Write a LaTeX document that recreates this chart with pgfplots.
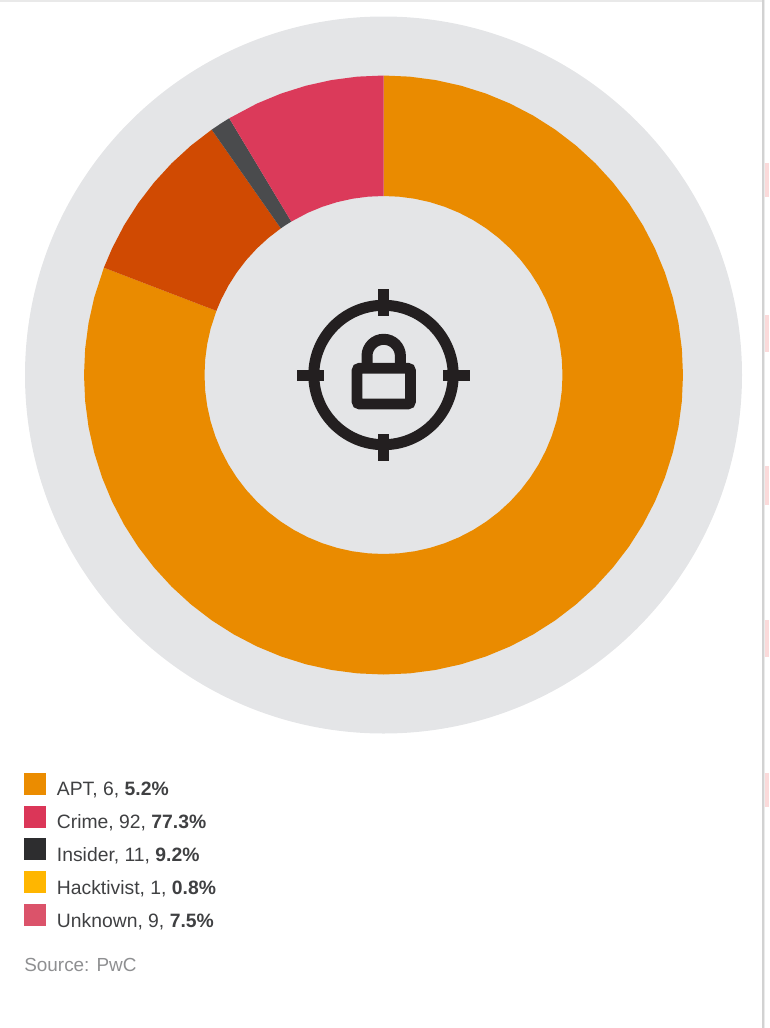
\documentclass[border=0pt]{standalone}
\usepackage{pgfplots}
\pgfplotsset{compat=1.18}
\usepackage{fontspec}
\setmainfont{Liberation Sans}
\definecolor{track}{HTML}{E4E5E7}
\definecolor{sliceA}{HTML}{EA8B00}
\definecolor{sliceB}{HTML}{D04A02}
\definecolor{sliceC}{HTML}{4A4B4D}
\definecolor{sliceD}{HTML}{DB3A5A}
\definecolor{lgA}{HTML}{EB8C00}
\definecolor{lgB}{HTML}{DB3658}
\definecolor{lgC}{HTML}{2D2D2F}
\definecolor{lgD}{HTML}{FFB600}
\definecolor{lgE}{HTML}{DB536A}
\definecolor{ink}{HTML}{231F20}
\definecolor{txt}{HTML}{3F4042}
\definecolor{src}{HTML}{8E8F91}
\definecolor{pink}{HTML}{FBDADA}
\definecolor{edge}{HTML}{D2D2D2}
\pgfplotsset{slice/.style={forget plot,draw=none,fill=#1}}
\pgfkeys{/pgfplots/table/polar table/.style={/pgfplots/table/row sep=\\,/pgfplots/table/x expr={383.5+\thisrow{r}*cos(\thisrow{a})},/pgfplots/table/y expr={375-\thisrow{r}*sin(\thisrow{a})}}}
\begin{document}
\begin{tikzpicture}
\path[use as bounding box] (0,0) rectangle (576.75pt,771pt);
\begin{axis}[at={(0,0)},anchor=south west,scale only axis,width=576.75pt,height=771pt,
 xmin=0,xmax=769,ymin=0,ymax=1028,y dir=reverse,hide axis,clip=true,
 legend image code/.code={\path[#1,draw=none] (0pt,-3.75pt) rectangle (16.5pt,12.75pt);\path (22.5pt,0pt);},
 legend style={at={(axis cs:24,773)},anchor=north west,draw=none,fill=none,inner sep=0pt,outer sep=0pt,
  row sep=3.9pt,cells={anchor=west},font=\fontsize{14.5pt}{16pt}\selectfont,text=txt,
  /tikz/every even column/.append style={column sep=0pt}},
 legend cell align=left]
% page edges
\fill[edge!50] (axis cs:0,0) rectangle (axis cs:763,2);
\fill[edge] (axis cs:762,0) rectangle (axis cs:763.5,1028);
\fill[edge!45] (axis cs:763.5,0) rectangle (axis cs:765,1028);
\fill[pink] (axis cs:764.5,163) rectangle (axis cs:769,197);
\fill[pink] (axis cs:764.5,315) rectangle (axis cs:769,352);
\fill[pink] (axis cs:764.5,466) rectangle (axis cs:769,505);
\fill[pink] (axis cs:764.5,620) rectangle (axis cs:769,657);
\fill[pink] (axis cs:764.5,773) rectangle (axis cs:769,807);
% track
\fill[track] (axis cs:383.5,375) circle[radius=358.5];
% slices: a = angle in degrees, r = radius in pixels
\addplot[slice=sliceA] table[polar table]{a r\\
90 299.5\\85 299.5\\80 299.5\\75 299.5\\70 299.5\\65 299.5\\60 299.5\\55 299.5\\50 299.5\\45 299.5\\
40 299.5\\35 299.5\\30 299.5\\25 299.5\\20 299.5\\15 299.5\\10 299.5\\5 299.5\\0 299.5\\-5 299.5\\
-10 299.5\\-15 299.5\\-20 299.5\\-25 299.5\\-30 299.5\\-35 299.5\\-40 299.5\\-45 299.5\\-50 299.5\\-55 299.5\\
-60 299.5\\-65 299.5\\-70 299.5\\-75 299.5\\-80 299.5\\-85 299.5\\-90 299.5\\-95 299.5\\-100 299.5\\-105 299.5\\
-110 299.5\\-115 299.5\\-120 299.5\\-125 299.5\\-130 299.5\\-135 299.5\\-140 299.5\\-145 299.5\\-150 299.5\\-155 299.5\\
-160 299.5\\-165 299.5\\-170 299.5\\-175 299.5\\-180 299.5\\-185 299.5\\-190 299.5\\-195 299.5\\-201 299.5\\
-201 179\\-195 179\\-190 179\\-185 179\\-180 179\\-175 179\\-170 179\\-165 179\\-160 179\\
-155 179\\-150 179\\-145 179\\-140 179\\-135 179\\-130 179\\-125 179\\-120 179\\-115 179\\-110 179\\
-105 179\\-100 179\\-95 179\\-90 179\\-85 179\\-80 179\\-75 179\\-70 179\\-65 179\\-60 179\\
-55 179\\-50 179\\-45 179\\-40 179\\-35 179\\-30 179\\-25 179\\-20 179\\-15 179\\-10 179\\
-5 179\\0 179\\5 179\\10 179\\15 179\\20 179\\25 179\\30 179\\35 179\\40 179\\
45 179\\50 179\\55 179\\60 179\\65 179\\70 179\\75 179\\80 179\\85 179\\90 179\\
} -- cycle;
\addplot[slice=sliceB] table[polar table]{a r\\
159 299.5\\155 299.5\\150 299.5\\145 299.5\\140 299.5\\135 299.5\\130 299.5\\125 299.5\\
125 179\\130 179\\135 179\\140 179\\145 179\\150 179\\155 179\\159 179\\
} -- cycle;
\addplot[slice=sliceC] table[polar table]{a r\\
125 299.5\\123 299.5\\121 299.5\\121 179\\123 179\\125 179\\
} -- cycle;
\addplot[slice=sliceD] table[polar table]{a r\\
121 299.5\\115 299.5\\110 299.5\\105 299.5\\100 299.5\\95 299.5\\90 299.5\\
90 179\\95 179\\100 179\\105 179\\110 179\\115 179\\121 179\\
} -- cycle;
% icon
\draw[ink,line width=8.25pt] (axis cs:383.5,375) circle[radius=69.7];
\fill[ink] (axis cs:378,289) rectangle (axis cs:389,316);
\fill[ink] (axis cs:378,434) rectangle (axis cs:389,461);
\fill[ink] (axis cs:297,369.5) rectangle (axis cs:324,380.5);
\fill[ink] (axis cs:443,369.5) rectangle (axis cs:470,380.5);
\draw[ink,line width=8pt,rounded corners=2pt] (axis cs:357,368.2) rectangle (axis cs:410.5,404);
\draw[ink,line width=8.25pt] (axis cs:367,365) -- (axis cs:367,356) arc[start angle=180,end angle=360,radius=16.7] -- (axis cs:400.4,365);
% legend
\addlegendimage{fill=lgA}\addlegendentry{APT, 6, \textbf{5.2\%}}
\addlegendimage{fill=lgB}\addlegendentry{Crime, 92, \textbf{77.3\%}}
\addlegendimage{fill=lgC}\addlegendentry{Insider, 11, \textbf{9.2\%}}
\addlegendimage{fill=lgD}\addlegendentry{Hacktivist, 1, \textbf{0.8\%}}
\addlegendimage{fill=lgE}\addlegendentry{Unknown, 9, \textbf{7.5\%}}
\node[anchor=west,inner sep=0pt,text=src,font=\fontsize{14.2pt}{16pt}\selectfont] at (axis cs:24,965) {Source: PwC};
\end{axis}
\end{tikzpicture}
\end{document}
